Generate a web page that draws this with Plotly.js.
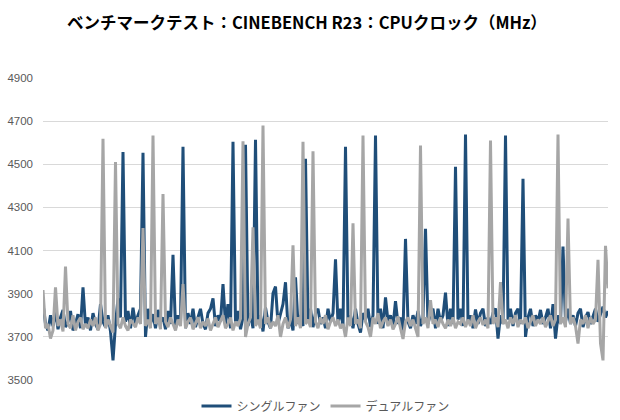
<!DOCTYPE html>
<html>
<head>
<meta charset="utf-8">
<script src="https://cdn.plot.ly/plotly-3.0.1.min.js"></script>
<style>html,body{margin:0;padding:0;background:#fff;}#chart{width:620px;height:420px;}</style>
</head>
<body>
<div id="chart"></div>
<script>
const chartTitle = "ベンチマークテスト：CINEBENCH R23：CPUクロック（MHz）";
const seriesNames = ["シングルファン", "デュアルファン"];
const yTicks = [3500, 3700, 3900, 4100, 4300, 4500, 4700, 4900];

const singleFan = [
  3855, 3760, 3730, 3800, 3750, 3820, 3735, 3790, 3825, 3745,
  3770, 3820, 3730, 3760, 3805, 3740, 3929, 3750, 3790, 3730,
  3810, 3760, 3735, 3852, 3770, 3745, 3800, 3725, 3591, 3760,
  3878, 3790, 4557, 3770, 3820, 3740, 3835, 3760, 3800, 3830,
  4553, 3700, 3830, 3760, 3805, 3740, 3825, 3770, 3790, 3735,
  3820, 3760, 4080, 3740, 3800, 3770, 4581, 3740, 3810, 3760,
  3830, 3745, 3790, 3830, 3760, 3735, 3810, 3830, 3878, 3750,
  3800, 3770, 3945, 3760, 3852, 3740, 4604, 3760, 3820, 3735,
  3790, 4591, 3750, 3810, 3740, 4614, 3760, 3800, 3725, 3836,
  3770, 3740, 3902, 3933, 3760, 3800, 3852, 3953, 3740, 3780,
  3730, 3976, 3760, 3800, 3750, 4525, 3770, 3830, 3745, 3810,
  3830, 3760, 3790, 3740, 3830, 3770, 3810, 4060, 3760, 3830,
  3750, 4581, 3770, 3800, 3740, 3830, 3760, 3720, 3810, 3780,
  3830, 3745, 3800, 4633, 3760, 3830, 3740, 3883, 3770, 3800,
  3750, 3866, 3760, 3790, 3730, 4154, 3770, 3740, 3800, 3760,
  3820, 3750, 3790, 4201, 3760, 3810, 3830, 3740, 3830, 3770,
  3800, 3905, 3750, 3830, 3760, 4488, 3780, 3830, 3750, 4638,
  3770, 3800, 3740, 3827, 3760, 3810, 3830, 3750, 3790, 3760,
  3810, 3832, 3692, 3800, 3760, 4633, 3780, 3830, 3750, 3810,
  3830, 3760, 4433, 3700, 3790, 3830, 3750, 3800, 3770, 3825,
  3760, 3790, 3830, 3740, 3852, 3692, 3800, 3760, 4119, 3770,
  3830, 3760, 3800, 3750, 3810, 3830, 3745, 3790, 3815, 3760,
  3800, 3830, 3770, 3810, 3840, 3790, 3820
];

const dualFan = [
  3917, 3740, 3760, 3692, 3730, 3929, 3750, 3780, 3725, 4026,
  3760, 3740, 3800, 3730, 3770, 3790, 3735, 3760, 3740, 3780,
  3750, 3790, 3730, 3760, 4618, 3740, 3780, 3750, 3720, 4511,
  3760, 3740, 3790, 3750, 3730, 3780, 3760, 3745, 3790, 3760,
  4204, 3750, 3780, 3740, 4633, 3760, 3790, 3735, 4362, 3770,
  3745, 3790, 3760, 3730, 3780, 3750, 3945, 3740, 3770, 3790,
  3735, 3760, 3790, 3740, 3770, 3750, 3785, 3730, 3760, 3790,
  3745, 3770, 3800, 3740, 3760, 3790, 3730, 3770, 3750, 3785,
  4607, 3700, 3760, 3790, 4208, 3750, 3780, 3740, 4680, 3760,
  3790, 3740, 3770, 3750, 3800, 3700, 3760, 3790, 3740, 3780,
  4125, 3750, 3790, 3740, 4604, 3760, 3780, 3745, 4560, 3770,
  3740, 3790, 3760, 3800, 3735, 3770, 3790, 3750, 3780, 3740,
  3760, 3700, 3790, 3750, 4227, 3760, 3780, 3740, 4633, 3770,
  3745, 3700, 3790, 3760, 3810, 3740, 3770, 3790, 3750, 3780,
  3735, 3760, 3795, 3740, 3690, 3770, 3790, 3750, 3780, 3740,
  3700, 4587, 3760, 3790, 3740, 3870, 3760, 3780, 3745, 3790,
  3760, 3740, 3780, 3750, 3790, 3740, 3770, 3760, 3790, 3745,
  3780, 3750, 3800, 3740, 3770, 3790, 3755, 3780, 3740, 4610,
  3760, 3790, 3745, 3954, 3760, 3780, 3740, 3790, 3760, 3800,
  3745, 3780, 3760, 3790, 3740, 3770, 3800, 3750, 3780, 3760,
  3790, 3745, 3770, 3800, 3750, 3780, 4638, 3760, 3790, 3745,
  4249, 3760, 3790, 3750, 3669, 3780, 3760, 3800, 3740, 3790,
  3760, 3780, 4057, 3670, 3591, 4122, 3925
];

const xs = singleFan.map((_, i) => i);

const traces = [
  {x: xs, y: singleFan, name: seriesNames[0], type: "scatter", mode: "lines",
   line: {color: "#1f4e79", width: 3}},
  {x: xs, y: dualFan, name: seriesNames[1], type: "scatter", mode: "lines",
   line: {color: "#a6a6a6", width: 3}}
];

const layout = {
  width: 620, height: 420,
  margin: {l: 43, r: 12, t: 78, b: 40, autoexpand: false},
  paper_bgcolor: "#ffffff", plot_bgcolor: "#ffffff",
  title: {text: chartTitle, x: 0.495, xanchor: "center", y: 0.944, yanchor: "middle",
          font: {family: "Noto Sans CJK JP", size: 16.5, color: "#000000", weight: 700}},
  xaxis: {range: [0, xs.length - 1], showgrid: false, zeroline: false, showticklabels: false,
          showline: false, ticks: ""},
  yaxis: {range: [3500, 4900], tickvals: yTicks, ticktext: yTicks.map(String),
          showgrid: true, gridcolor: "#d9d9d9", gridwidth: 1, zeroline: false,
          showline: false, ticks: "", ticklabelstandoff: 9,
          tickfont: {family: "Liberation Sans Narrow, Liberation Sans, Arial", size: 11.5, color: "#595959"}},
  showlegend: true,
  legend: {orientation: "h", x: 0.5, xanchor: "center", y: -0.086, yanchor: "middle",
           font: {family: "Noto Sans CJK JP", size: 12, color: "#595959"},
           itemwidth: 30, traceorder: "normal"}
};

Plotly.newPlot("chart", traces, layout, {displayModeBar: false, staticPlot: true});
</script>
</body>
</html>
